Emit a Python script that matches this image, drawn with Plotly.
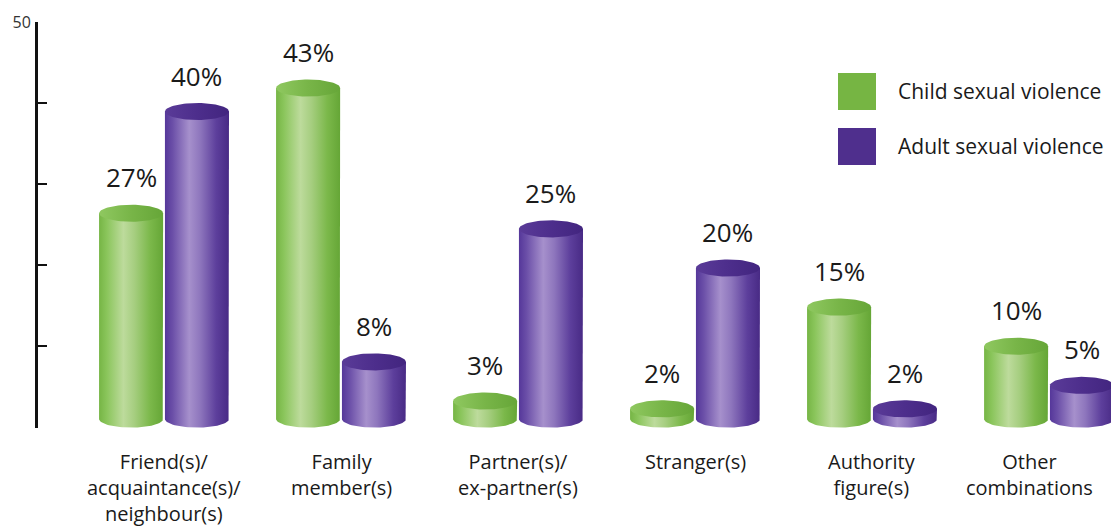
import numpy as np
import plotly.graph_objects as go

# ---- data -------------------------------------------------------------
categories = [
    "Friend(s)/<br>acquaintance(s)/<br>neighbour(s)",
    "Family<br>member(s)",
    "Partner(s)/<br>ex-partner(s)",
    "Stranger(s)",
    "Authority<br>figure(s)",
    "Other<br>combinations",
]
series_names = ["Child sexual violence", "Adult sexual violence"]
child_values = [27, 43, 3, 2, 15, 10]
adult_values = [40, 8, 25, 20, 2, 5]
axis_ticks = [0, 10, 20, 30, 40, 50]
axis_ticktext = ["", "", "", "", "", "50"]

# ---- styling ----------------------------------------------------------
FONT = "Open Sans"
GREEN_BODY = [[0.0, "#76b545"], [0.12, "#8ac55b"], [0.38, "#bddb9c"],
              [0.55, "#a6ce80"], [0.8, "#7bb84a"], [1.0, "#65a636"]]
GREEN_TOP = [[0.0, "#8fc860"], [0.5, "#78b548"], [1.0, "#66a638"]]
PURPLE_BODY = [[0.0, "#55379a"], [0.12, "#6b4fa8"], [0.38, "#a690cc"],
               [0.55, "#8e76bd"], [0.8, "#5d3f9c"], [1.0, "#482a85"]]
PURPLE_TOP = [[0.0, "#5a3b98"], [0.5, "#4d2e8c"], [1.0, "#42257f"]]
GREEN_SOLID = "#76b543"
PURPLE_SOLID = "#4f2f8d"
LABEL_XSHIFT = [0, 0, 0, 0, 0, -20]   # keep the last label inside the page

OFFSET = 0.186      # distance of each cylinder from the group centre (x units)
HALF_W = 0.181      # cylinder radius along x (x units)
CAP_B = 1.09        # elliptical cap half-height (y units)
BASE = 0.7          # centre of the bottom cap (y units)

fig = go.Figure()


def add_cylinder(xc, value, body_scale, top_scale):
    t_low = np.linspace(0, -np.pi, 40)
    xs = [xc - HALF_W, xc - HALF_W, xc + HALF_W, xc + HALF_W]
    ys = [BASE, value, value, BASE]
    xs += list(xc + HALF_W * np.cos(t_low))
    ys += list(BASE + CAP_B * np.sin(t_low))
    fig.add_trace(go.Scatter(
        x=xs, y=ys, mode="lines", fill="toself", line=dict(width=0),
        fillgradient=dict(type="horizontal", colorscale=body_scale),
        hoverinfo="skip", showlegend=False))
    t = np.linspace(0, 2 * np.pi, 80)
    fig.add_trace(go.Scatter(
        x=list(xc + HALF_W * np.cos(t)), y=list(value + CAP_B * np.sin(t)),
        mode="lines", fill="toself", line=dict(width=0),
        fillgradient=dict(type="horizontal", colorscale=top_scale),
        hoverinfo="skip", showlegend=False))


for i, (c, a) in enumerate(zip(child_values, adult_values)):
    add_cylinder(i - OFFSET, c, GREEN_BODY, GREEN_TOP)
    add_cylinder(i + OFFSET, a, PURPLE_BODY, PURPLE_TOP)

# value labels above each cylinder
for i, (c, a) in enumerate(zip(child_values, adult_values)):
    for xc, v in ((i - OFFSET, c), (i + OFFSET, a)):
        fig.add_annotation(x=xc, y=v, text=f"{v}%", showarrow=False,
                           xanchor="center", yanchor="bottom", yshift=16,
                           font=dict(family=FONT, size=26, color="#1a1a1a"))

# category labels under each group
for i, label in enumerate(categories):
    fig.add_annotation(x=i, y=0, xref="x", yref="paper", text=label,
                       showarrow=False, xanchor="center", yanchor="top",
                       align="center", yshift=-18, xshift=LABEL_XSHIFT[i],
                       font=dict(family=FONT, size=20, color="#1a1a1a"))

# invisible trace so the scale axis is drawn
fig.add_trace(go.Scatter(x=[None], y=[None], yaxis="y2", showlegend=False,
                         hoverinfo="skip"))

# legend
for k, (name, col) in enumerate(zip(series_names, [GREEN_SOLID, PURPLE_SOLID])):
    y_top = 73 + k * 55
    fig.add_shape(type="rect", xref="paper", yref="paper",
                  x0=(838 - 38) / 1073, x1=(876 - 38) / 1073,
                  y0=(428 - y_top) / 406, y1=(428 - y_top - 37) / 406,
                  fillcolor=col, line=dict(width=0))
    fig.add_annotation(xref="paper", yref="paper",
                       x=(896 - 38) / 1073, y=(428 - y_top - 18) / 406,
                       text=name, showarrow=False, xanchor="left",
                       yanchor="middle",
                       font=dict(family=FONT, size=21, color="#1a1a1a"))

fig.update_layout(
    width=1111, height=527,
    margin=dict(l=38, r=0, t=22, b=99),
    paper_bgcolor="white", plot_bgcolor="white",
    showlegend=False,
    xaxis=dict(range=[-0.712, 5.35], showticklabels=False, showgrid=False,
               zeroline=False, showline=False, ticks=""),
    yaxis=dict(range=[-0.447, 51.44], visible=False, showgrid=False,
               zeroline=False),
    yaxis2=dict(range=[-0.123, 50.02], overlaying="y", side="left",
                tickmode="array", tickvals=axis_ticks, ticktext=axis_ticktext,
                showline=True, linecolor="#111", linewidth=3,
                ticks="inside", ticklen=9, tickwidth=2, tickcolor="#111",
                showgrid=False, zeroline=False, ticklabelstandoff=1,
                tickfont_family=FONT, tickfont_size=16,
                tickfont_color="#333"),
)

fig.write_html("out.html")
